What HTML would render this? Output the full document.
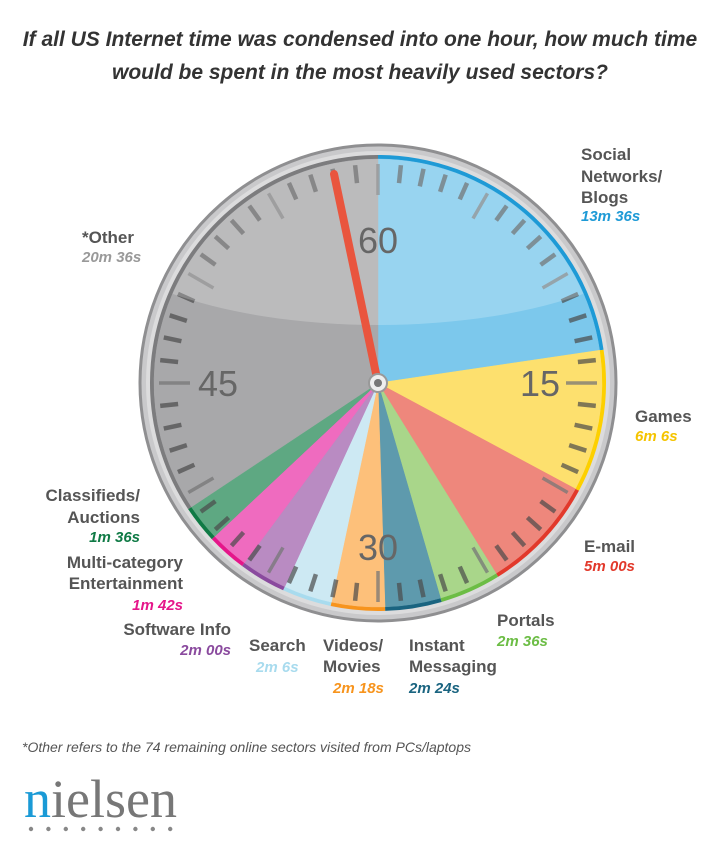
<!DOCTYPE html>
<html><head><meta charset="utf-8"><style>
body{margin:0;background:#fff;width:720px;height:862px;overflow:hidden}
svg{display:block}
.l{font-family:"Liberation Sans",sans-serif;font-weight:bold;font-size:17px;fill:#555}
.v{font-family:"Liberation Sans",sans-serif;font-style:italic;font-weight:bold;font-size:15px}
</style></head><body>
<svg id="s" width="720" height="862" xmlns="http://www.w3.org/2000/svg">
<text x="360" y="46" text-anchor="middle" font-family="Liberation Sans,sans-serif" font-style="italic" font-weight="bold" font-size="21" fill="#333">If all US Internet time was condensed into one hour, how much time</text>
<text x="360" y="79" text-anchor="middle" font-family="Liberation Sans,sans-serif" font-style="italic" font-weight="bold" font-size="21" fill="#333">would be spent in the most heavily used sectors?</text>
<circle cx="378" cy="383" r="238" fill="#c9c9cb" stroke="#8f8f91" stroke-width="3"/>
<circle cx="378" cy="383" r="232" fill="#dcdcdd"/>
<g id="pie"></g>
<g id="ticks"></g>
<defs><clipPath id="cp"><circle cx="378" cy="383" r="224"/></clipPath></defs>
<ellipse cx="378" cy="210" rx="300" ry="115" fill="#fff" opacity="0.22" clip-path="url(#cp)"/>
<g font-family="Liberation Sans,sans-serif" font-size="36" fill="#666" text-anchor="middle">
<text x="378" y="253">60</text><text x="540" y="396">15</text><text x="378" y="560">30</text><text x="218" y="396">45</text></g>
<line x1="378" y1="383" x2="334" y2="174" stroke="#e9553e" stroke-width="8" stroke-linecap="round"/>
<circle cx="378" cy="383" r="9" fill="#eee" stroke="#999" stroke-width="2"/>
<circle cx="378" cy="383" r="4" fill="#777"/>
<text class="l" x="581" y="160">Social</text><text class="l" x="581" y="182">Networks/</text><text class="l" x="581" y="203">Blogs</text><text class="v" x="581" y="221" fill="#1e9ad6">13m 36s</text>
<text class="l" x="82" y="243">*Other</text><text class="v" x="82" y="262" fill="#999">20m 36s</text>
<text class="l" x="635" y="422">Games</text><text class="v" x="635" y="441" fill="#f5c400">6m 6s</text>
<text class="l" x="584" y="552">E-mail</text><text class="v" x="584" y="571" fill="#e2392b">5m 00s</text>
<text class="l" x="140" y="501" text-anchor="end">Classifieds/</text><text class="l" x="140" y="523" text-anchor="end">Auctions</text><text class="v" x="140" y="542" text-anchor="end" fill="#0f7a45">1m 36s</text>
<text class="l" x="183" y="568" text-anchor="end">Multi-category</text><text class="l" x="183" y="589" text-anchor="end">Entertainment</text><text class="v" x="183" y="610" text-anchor="end" fill="#e5168a">1m 42s</text>
<text class="l" x="231" y="635" text-anchor="end">Software Info</text><text class="v" x="231" y="655" text-anchor="end" fill="#8a4a9e">2m 00s</text>
<text class="l" x="249" y="651">Search</text><text class="v" x="256" y="672" fill="#a8dbee">2m 6s</text>
<text class="l" x="323" y="651">Videos/</text><text class="l" x="323" y="672">Movies</text><text class="v" x="333" y="693" fill="#f7941d">2m 18s</text>
<text class="l" x="409" y="651">Instant</text><text class="l" x="409" y="672">Messaging</text><text class="v" x="409" y="693" fill="#1a6480">2m 24s</text>
<text class="l" x="497" y="626">Portals</text><text class="v" x="497" y="646" fill="#6cbd45">2m 36s</text>
<text x="22" y="752" font-family="Liberation Sans,sans-serif" font-style="italic" font-size="14" fill="#555">*Other refers to the 74 remaining online sectors visited from PCs/laptops</text>
<text x="24" y="817" font-family="Liberation Serif,serif" font-size="54" fill="#777"><tspan fill="#1a9ad6">n</tspan>ielsen</text>
<g id="dots" fill="#888"></g>
</svg>
<script>
var cx=378,cy=383,R=224,RR=228;
var d=[[13.6,"#7cc8ec","#1e9ad6"],[6.1,"#fde06e","#fdd000"],[5,"#ee877c","#e2392b"],[2.6,"#a9d68a","#6cbd45"],[2.4,"#5e9aad","#1a6480"],[2.3,"#fdc07a","#f7941d"],[2.1,"#cde9f3","#a8dbee"],[2.0,"#b98bc2","#8a4a9e"],[1.7,"#ef6bbf","#e5168a"],[1.6,"#5ea882","#0f7a45"],[20.6,"#a8a8aa","#7c7c7e"]];
function p(m,r){var a=m/60*2*Math.PI;return [cx+r*Math.sin(a),cy-r*Math.cos(a)];}
function arc(a,b,r){var s=p(a,r),e=p(b,r);return "M"+cx+","+cy+"L"+s[0]+","+s[1]+"A"+r+","+r+" 0 "+((b-a)>30?1:0)+" 1 "+e[0]+","+e[1]+"Z";}
var h="",t=0;
d.forEach(function(x){h+='<path d="'+arc(t,t+x[0],RR)+'" fill="'+x[2]+'"/>';t+=x[0];});
t=0;d.forEach(function(x){h+='<path d="'+arc(t,t+x[0],R)+'" fill="'+x[1]+'" stroke="'+x[1]+'" stroke-width="0.5"/>';t+=x[0];});
document.getElementById("pie").innerHTML=h;
var k="";
for(var i=0;i<60;i++){var maj=i%5==0;var a=p(i,maj?190:201),b=p(i,219);
if(i%15==0){a=p(i,188);}
k+='<line x1="'+a[0]+'" y1="'+a[1]+'" x2="'+b[0]+'" y2="'+b[1]+'" stroke="'+(maj?"#777":"#4a4a4a")+'" stroke-opacity="'+(maj?0.75:0.7)+'" stroke-width="'+(maj?3.5:4.5)+'"/>';}
document.getElementById("ticks").innerHTML=k;
var q="";for(var j=0;j<9;j++)q+='<circle cx="'+(31+j*17.4)+'" cy="829" r="2.2"/>';
document.getElementById("dots").innerHTML=q;
</script>
</body></html>
